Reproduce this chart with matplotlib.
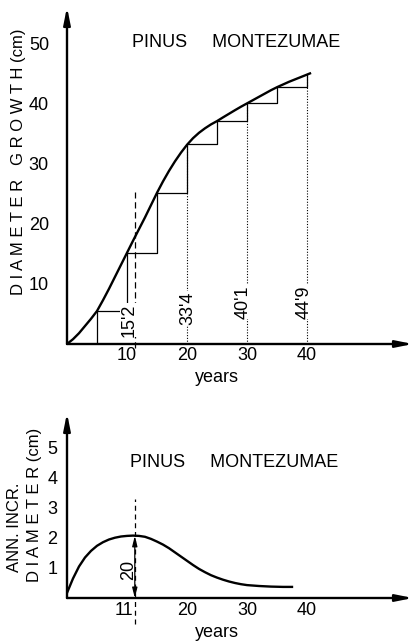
import numpy as np
import matplotlib.pyplot as plt

plt.rcParams['font.family'] = ['Liberation Sans', 'DejaVu Sans']

# --- upper panel: cumulative diameter growth (cm) by age (years)
curve_years = [0, 1, 2, 3, 4, 5, 6, 7, 8, 9, 10, 11, 12, 13, 14, 15, 16, 17, 18, 19,
               20, 21, 22, 23, 24, 25, 26, 27, 28, 29, 30, 31, 32, 33, 34, 35, 36,
               37, 38, 39, 40, 40.5]
curve_diam = [0.0, 0.8, 1.8, 3.0, 4.2, 5.5, 7.3, 9.2, 11.2, 13.2, 15.2, 17.2, 19.15,
              21.1, 23.15, 25.2, 27.1, 28.85, 30.45, 31.9, 33.2, 34.3, 35.2, 35.95,
              36.6, 37.15, 37.77, 38.37, 38.97, 39.55, 40.1, 40.65, 41.2, 41.75,
              42.3, 42.8, 43.25, 43.7, 44.1, 44.5, 44.9, 45.1]

step_years = [5, 10, 15, 20, 25, 30, 35, 40]
step_diam = [5.5, 15.2, 25.2, 33.4, 37.1, 40.1, 42.8, 44.9]

dotted_years = [20, 30, 40]
dotted_diam = [33.4, 40.1, 44.9]
value_labels = ["15'2", "33'4", "40'1", "44'9"]
value_label_x = [10.3, 20.2, 29.4, 39.5]
value_label_y = [4.0, 6.0, 7.0, 7.0]

culm_year = 11.3
top_xticks = [10, 20, 30, 40]
top_yticks = [10, 20, 30, 40, 50]

# --- lower panel: annual diameter increment (cm)
incr_years = [0, 1, 2, 3, 4, 5, 6, 7, 8, 9, 10, 11, 12, 13, 14, 15, 16, 17, 18, 19,
              20, 21, 22, 23, 24, 25, 26, 27, 28, 29, 30, 32, 34, 36, 37.5]
incr_vals = [0.17, 0.65, 1.05, 1.35, 1.57, 1.74, 1.86, 1.95, 2.01, 2.05, 2.07, 2.08,
             2.07, 2.04, 1.97, 1.88, 1.78, 1.66, 1.52, 1.38, 1.24, 1.1, 0.97, 0.86,
             0.76, 0.68, 0.61, 0.55, 0.5, 0.46, 0.43, 0.4, 0.38, 0.37, 0.37]
peak_incr = 2.07
bot_xticks = [11, 20, 30, 40]
bot_yticks = [1, 2, 3, 4, 5]

title = "PINUS     MONTEZUMAE"
fs = 13

fig = plt.figure(figsize=(4.14, 6.43), dpi=100)
W, H = 414, 643
x0 = 67
xmax = (413 - x0) / 6.0

ax1 = fig.add_axes([x0 / W, (H - 344) / H, (413 - x0) / W, 337 / H])
ax2 = fig.add_axes([x0 / W, (H - 598) / H, (413 - x0) / W, 185 / H])
ax1.set_xlim(0, xmax)
ax1.set_ylim(0, 337 / 6.0)
ax2.set_xlim(0, xmax)
ax2.set_ylim(0, 185 / 30.0)


def axis_arrows(ax):
    for s in ax.spines.values():
        s.set_visible(False)
    for end in [(1, 0), (0, 1)]:
        ax.annotate('', xy=end, xytext=(0, 0), xycoords='axes fraction',
                    arrowprops=dict(arrowstyle='-|>,head_length=1.0,head_width=0.2',
                                    color='black', lw=1.7, shrinkA=0, shrinkB=0))
    ax.tick_params(length=0, labelsize=fs)


# upper panel
ax1.set_xticks(top_xticks)
ax1.set_yticks(top_yticks)
axis_arrows(ax1)
ax1.plot(curve_years, curve_diam, color='black', lw=1.7)
ax1.step([step_years[0]] + step_years, [0] + step_diam, where='post',
         color='black', lw=0.9)
for xv, yv in zip(dotted_years, dotted_diam):
    ax1.plot([xv, xv], [0, yv], color='black', lw=0.8, ls=(0, (1, 1.5)))
ax1.plot([culm_year, culm_year], [-0.7, 25.3], color='black', lw=0.9,
         ls=(0, (5, 3)), clip_on=False)
for xv, yv, t in zip(value_label_x, value_label_y, value_labels):
    ax1.text(xv, yv, t, rotation=90, ha='center', va='center', fontsize=fs,
             bbox=dict(fc='white', ec='none', pad=0.5))
ax1.text(28.2, 50.2, title, ha='center', va='center', fontsize=fs)
ax1.tick_params(axis='y', pad=13)
ax1.tick_params(axis='x', pad=2)
ax1.text(-0.1416, 0.54, "D I A M E T E R   G R O W T H (cm)", rotation=90,
         ha='center', va='center', fontsize=12, transform=ax1.transAxes)
ax1.text((217 - x0) / 6.0, -5.5, "years", ha='center', va='center', fontsize=fs)

# lower panel
ax2.set_xticks(bot_xticks)
ax2.set_yticks(bot_yticks)
axis_arrows(ax2)
ax2.plot(incr_years, incr_vals, color='black', lw=1.7)
ax2.plot([culm_year, culm_year], [-0.85, 3.3], color='black', lw=0.9,
         ls=(0, (4, 3)), clip_on=False)
ax2.annotate('', xy=(culm_year, peak_incr), xytext=(culm_year, 0),
             arrowprops=dict(arrowstyle='<|-|>,head_length=0.6,head_width=0.15',
                             color='black', lw=0.9, shrinkA=0, shrinkB=0))
ax2.text(10.2, 0.93, "20", rotation=90, ha='center', va='center', fontsize=fs)
ax2.text(27.8, 4.53, title, ha='center', va='center', fontsize=fs)
ax2.tick_params(axis='y', pad=7)
ax2.tick_params(axis='x', pad=3)
ax2.get_xticklabels()[0].set_horizontalalignment('right')
ax2.text((15 - x0) / 346, (598 - 527) / 185, "ANN. INCR.", rotation=90,
         ha='center', va='center', fontsize=12, transform=ax2.transAxes)
ax2.text((35 - x0) / 346, (598 - 505) / 185, "D I A M E T E R (cm)", rotation=90,
         ha='center', va='center', fontsize=12, transform=ax2.transAxes)
ax2.text((217 - x0) / 6.0, -1.15, "years", ha='center', va='center', fontsize=fs)

fig.savefig('out.png', dpi=100)
